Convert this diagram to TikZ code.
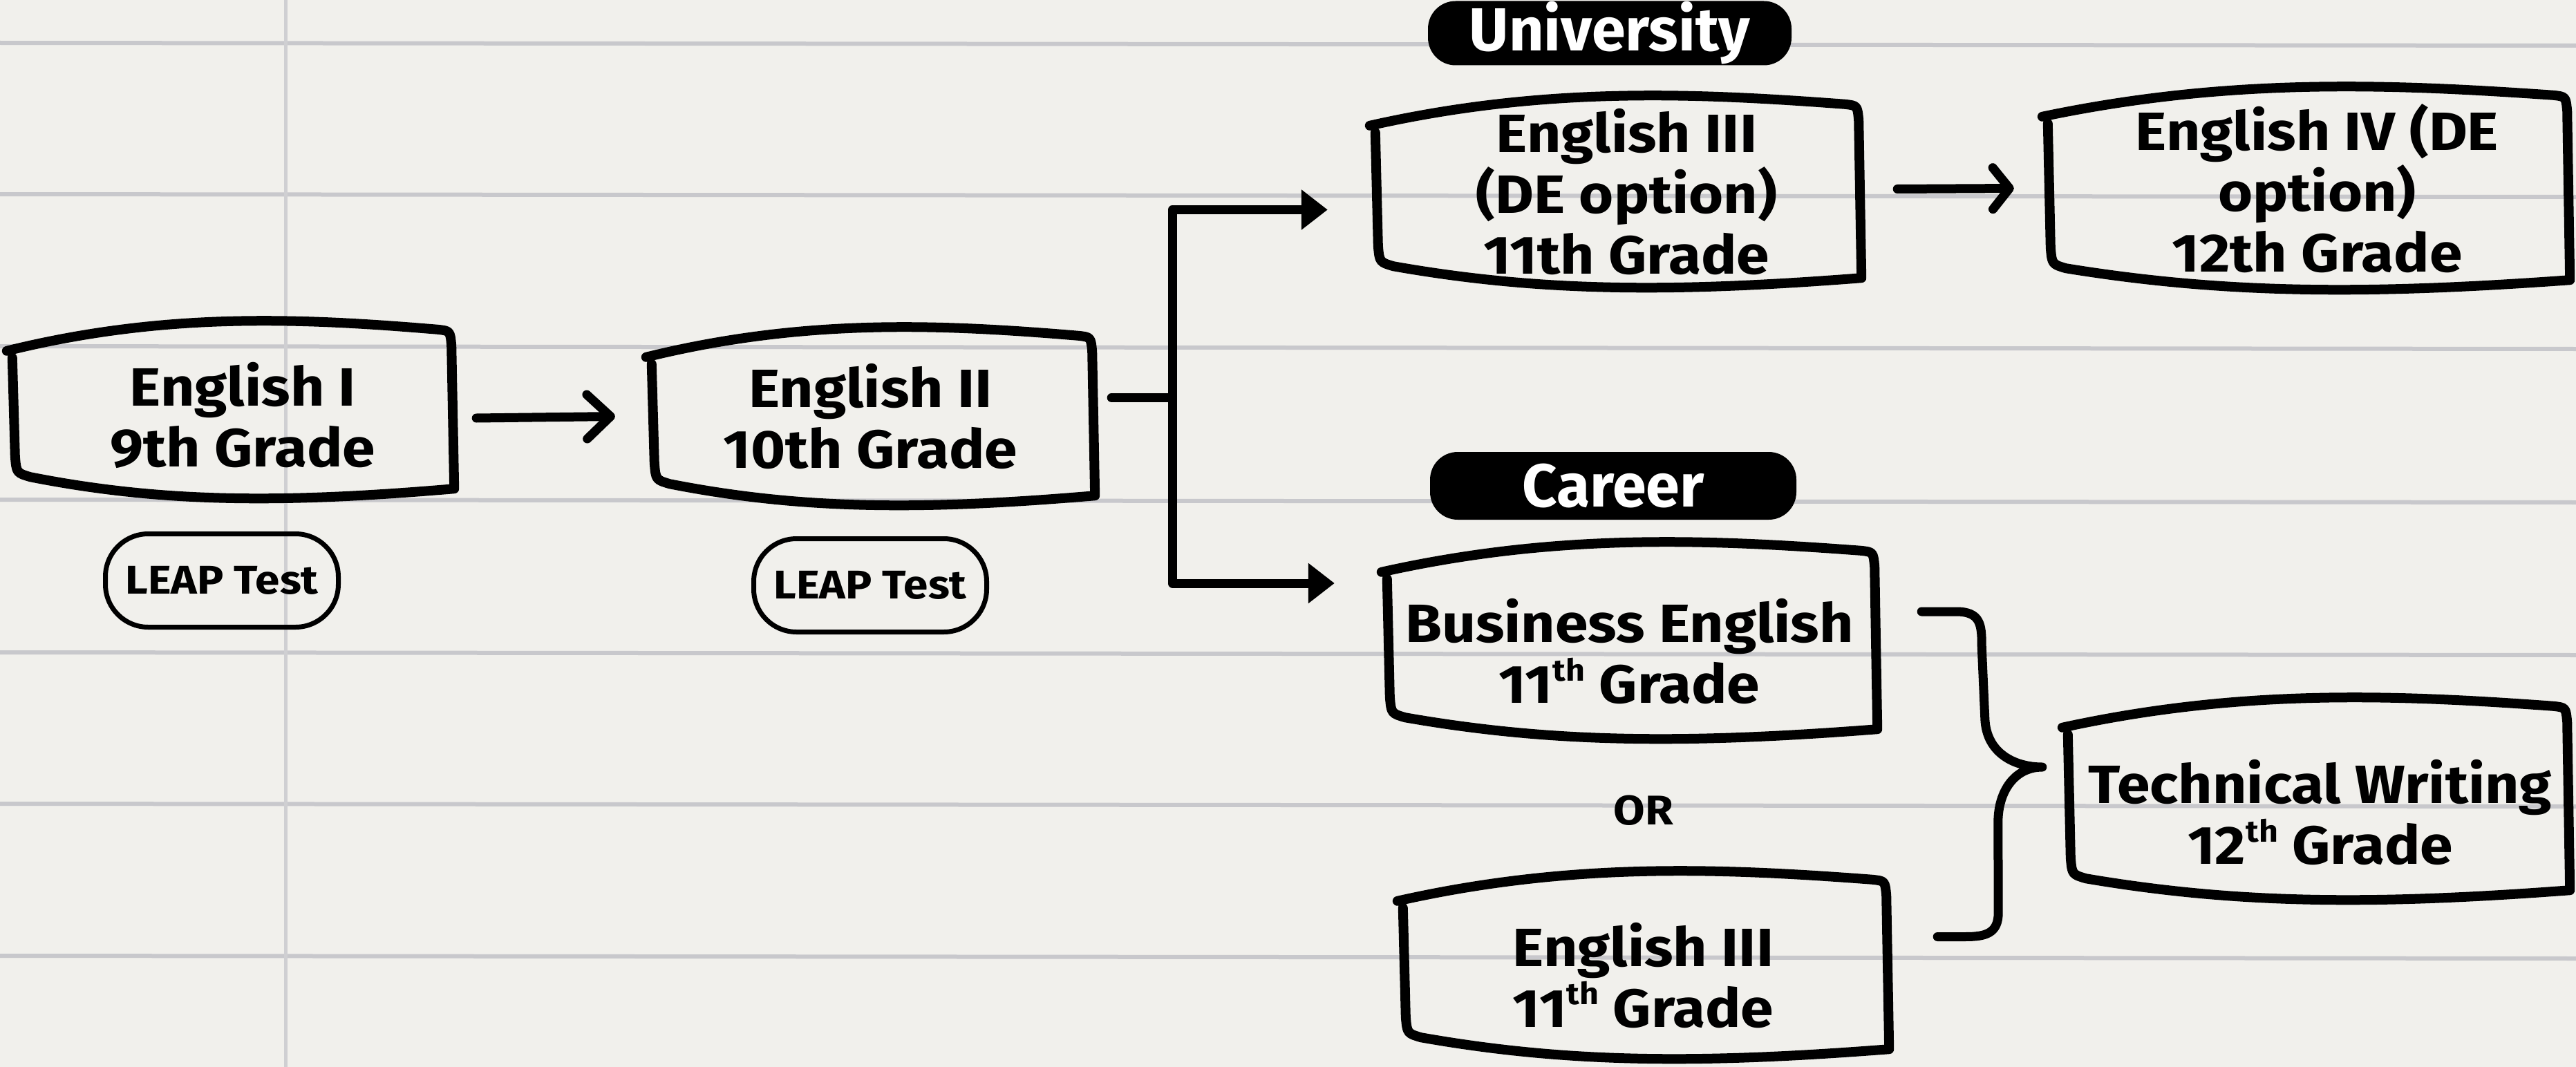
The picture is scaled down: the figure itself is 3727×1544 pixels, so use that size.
\documentclass[tikz,border=0pt]{standalone}
\usepackage{fontspec}
\setmainfont{Fira Sans}
\newfontfamily\boxfont{Fira Sans}[FakeStretch=1.1]
\usetikzlibrary{arrows.meta,calc}
\definecolor{paper}{HTML}{F1F0EC}
\definecolor{rulecol}{HTML}{C8C8CC}
\definecolor{vrulecol}{HTML}{CFCFD2}
\newcommand\sups[1]{\raisebox{0.42em}{\fontsize{44}{44}\selectfont #1}}
\newcommand\sketchbox[1]{%
  \draw[boxline]
    ($(#1.north west)+(0,44)$)
    .. controls ($(#1.north west)!0.35!(#1.north east)+(0,-12)$) and ($(#1.north west)!0.65!(#1.north east)+(0,-4)$) .. ($(#1.north east)+(-24,13)$)
    .. controls ($(#1.north east)+(-6,15)$) .. ($(#1.north east)+(-4,36)$)
    -- ($(#1.south east)+(0,-15)$)
    .. controls ($(#1.south west)!0.62!(#1.south east)+(0,6)$) and ($(#1.south west)!0.35!(#1.south east)+(0,6)$) .. ($(#1.south west)+(34,-32)$)
    .. controls ($(#1.south west)+(14,-38)$) .. ($(#1.south west)+(12,-62)$)
    -- ($(#1.north west)+(8,54)$);}
\begin{document}
\begin{tikzpicture}[x=1pt,y=-1pt,
  boxline/.style={line width=14pt,line cap=round,line join=round},
  frame/.style={inner sep=0pt},
  boxtext/.style={inner sep=0pt,align=center,font=\boxfont\fontsize{78}{88}\selectfont\bfseries},
  leap/.style={draw,line width=7pt,rounded corners=62pt,minimum width=337pt,minimum height=135pt,inner sep=0pt,font=\boxfont\fontsize{58}{60}\selectfont\bfseries},
  tag/.style={fill=black,text=white,rounded corners=40pt,inner sep=0pt,font=\fontsize{88}{96}\selectfont\bfseries},
  conn/.style={line width=13pt,line cap=round,line join=round},
  filledtip/.style={-{Triangle[length=38pt,width=56pt]}},
  barbtip/.style={-{Straight Barb[length=34pt,width=64pt,round]}},
  smallbarb/.style={-{Straight Barb[length=24pt,width=60pt,round]}},
  rule/.style={rulecol,line width=6pt}]
\useasboundingbox (0,0) rectangle (3727,1544);
\fill[paper] (0,0) rectangle (3727,1544);
\foreach \yy in {62,281,501,723,944,1163,1383}
  \draw[rule] (0,\yy) -- (3727,\yy+4);
\draw[vrulecol,line width=5pt] (413,0) -- (413,1544);

% box frames
\node[frame,minimum width=647pt,minimum height=258pt] (e1) at (333.5,593) {};
\node[frame,minimum width=649pt,minimum height=259pt] (e2) at (1259.5,602.5) {};
\node[frame,minimum width=711pt,minimum height=279pt] (e3de) at (2337.5,277.5) {};
\node[frame,minimum width=763pt,minimum height=295pt] (e4) at (3336.5,272.5) {};
\node[frame,minimum width=717pt,minimum height=286pt] (be) at (2357.5,927) {};
\node[frame,minimum width=711pt,minimum height=273pt] (e3) at (2377.5,1396.5) {};
\node[frame,minimum width=734pt,minimum height=294pt] (tw) at (3351,1156) {};
\foreach \n in {e1,e2,e3de,e4,be,e3,tw} { \sketchbox{\n} }

% box texts
\node[boxtext] (e1t) at ($(e1)+(18,8)$) {English I\\9th Grade};
\node[boxtext] (e2t) at ($(e2)+(0,0)$) {English II\\10th Grade};
\node[boxtext] (e3det) at ($(e3de)+(16,0)$) {English III\\(DE option)\\11th Grade};
\node[boxtext] (e4t) at ($(e4)+(16,0)$) {English IV (DE\\option)\\12th Grade};
\node[boxtext] (bet) at ($(be)+(0,16)$) {Business English\\11\sups{th} Grade};
\node[boxtext] (e3t) at ($(e3)+(0,15)$) {English III\\11\sups{th} Grade};
\node[boxtext] (twt) at ($(tw)+(6,20)$) {Technical Writing\\12\sups{th} Grade};

% LEAP tests
\node[leap] (l1) at (321,840) {LEAP Test};
\node[leap] (l2) at (1259,847) {LEAP Test};

% tags
\node[tag,minimum width=526pt,minimum height=93pt] (uni) at (2329,48) {University};
\node[tag,minimum width=530pt,minimum height=98pt] (car) at (2334,703) {Career};

% OR
\node[font=\boxfont\fontsize{60}{64}\selectfont\bfseries] (or) at (2378,1173) {OR};

% connectors
\draw[conn,barbtip] ($(e1.east)+(32,12)$) -- ($(e2.west)+(-45,0)$);
\coordinate (split) at ($(e2.east)+(112,-27)$);
\draw[conn] ($(e2.east)+(24,-27)$) -- (split);
\draw[conn,filledtip] (split) |- ($(e3de.west)+(-61,26)$);
\draw[conn,filledtip] (split) |- ($(be.west)+(-68,-83)$);
\draw[conn,smallbarb] ($(e3de.east)+(52,-4)$) -- ($(e4.west)+(-41,0)$);

% brace
\coordinate (bt) at ($(be.east)+(64,-42)$);
\coordinate (bb) at ($(e3.east)+(70,-41)$);
\coordinate (btip) at ($(tw.west)+(-29,-46)$);
\draw[conn] (bt) -- ++(50,0) .. controls +(36,0) and +(0,-30) .. ++(37,50)
  -- ($(btip)+(-83,-70)$) .. controls +(2,50) and +(-40,0) .. (btip)
  .. controls +(-40,0) and +(0,-45) .. ($(btip)+(-64,80)$)
  -- ($(bb)+(88,-35)$) .. controls +(0,30) and +(30,0) .. ($(bb)+(40,0)$) -- (bb);
\end{tikzpicture}
\end{document}
